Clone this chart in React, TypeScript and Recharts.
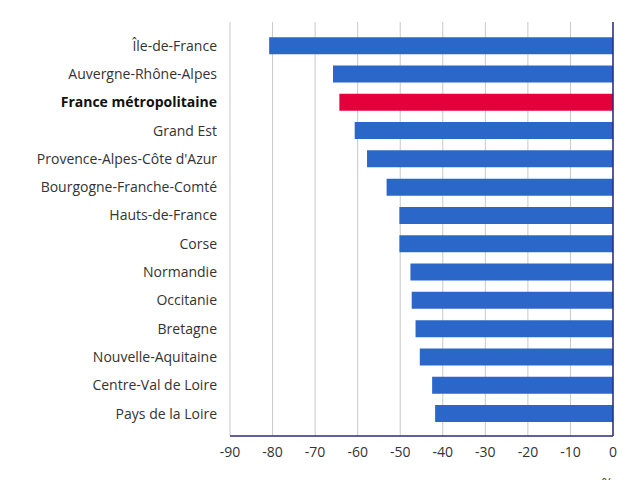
import React from 'react';
import { BarChart, Bar, XAxis, YAxis, CartesianGrid, ReferenceLine, Cell, Label } from 'recharts';

if (typeof document !== 'undefined') {
  document.body.style.margin = '0';
}

const regions = [
  'Île-de-France',
  'Auvergne-Rhône-Alpes',
  'France métropolitaine',
  'Grand Est',
  "Provence-Alpes-Côte d'Azur",
  'Bourgogne-Franche-Comté',
  'Hauts-de-France',
  'Corse',
  'Normandie',
  'Occitanie',
  'Bretagne',
  'Nouvelle-Aquitaine',
  'Centre-Val de Loire',
  'Pays de la Loire',
];

const values = [-80.8, -65.8, -64.3, -60.7, -57.8, -53.2, -50.2, -50.2, -47.6, -47.3, -46.4, -45.4, -42.5, -41.8];

const xTicks = [-90, -80, -70, -60, -50, -40, -30, -20, -10, 0];

const highlight = 'France métropolitaine';
const unitLabel = 'en %';

const data = regions.map((name, i) => ({ name, value: values[i] }));

const FONT = '"Open Sans", "Noto Sans", sans-serif';
const BLUE = '#2a67c9';
const RED = '#e3003b';
const NAVY = '#2d2b7c';

const YTick = (props: any) => {
  const { x, y, payload } = props;
  const bold = payload.value === highlight;
  return (
    <text
      x={x}
      y={y}
      dy="0.355em"
      textAnchor="end"
      fontFamily={FONT}
      fontSize={14}
      fontWeight={bold ? 700 : 400}
      fill={bold ? '#111' : '#333'}
    >
      {payload.value}
    </text>
  );
};

export default function App() {
  return (
    <div style={{ width: 640, height: 480, overflow: 'hidden', background: '#fff' }}>
      <BarChart
        width={640}
        height={480}
        data={data}
        layout="vertical"
        margin={{ top: 22, right: 27, left: 0, bottom: 0 }}
        barCategoryGap="20%"
      >
        <CartesianGrid horizontal={false} vertical={true} stroke="#c8c8c8" strokeWidth={1} />
        <XAxis
          type="number"
          domain={[-90, 0]}
          ticks={xTicks}
          height={44}
          axisLine={{ stroke: NAVY, strokeWidth: 1.5 }}
          tickLine={false}
          tickMargin={5}
          tick={{ fill: '#333', fontSize: 14, fontFamily: FONT }}
          interval={0}
        >
          <Label
            value={unitLabel}
            position="insideBottomRight"
            offset={0}
            dy={8}
            style={{ fill: '#333', fontSize: 14, fontFamily: FONT }}
          />
        </XAxis>
        <YAxis
          type="category"
          dataKey="name"
          width={230}
          axisLine={false}
          tickLine={false}
          tickMargin={7}
          tick={<YTick />}
          interval={0}
          padding={{ top: 9.5, bottom: 8.3 }}
        />
        <Bar dataKey="value" isAnimationActive={false}>
          {data.map((d) => (
            <Cell key={d.name} fill={d.name === highlight ? RED : BLUE} />
          ))}
        </Bar>
        <ReferenceLine x={0} stroke={NAVY} strokeWidth={1.5} />
      </BarChart>
    </div>
  );
}
